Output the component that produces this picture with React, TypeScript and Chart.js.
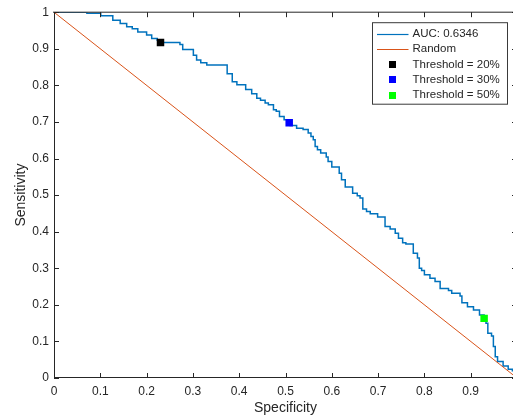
import { useEffect, useRef } from 'react';
import { Chart, registerables } from 'chart.js';

Chart.register(...registerables);

// ROC curve vertices (specificity, sensitivity), step-wise
const rocSpecificity = [
  0, 0.071, 0.101, 0.127, 0.143, 0.157, 0.169, 0.181, 0.200, 0.211, 0.223, 0.229,
  0.272, 0.278, 0.301, 0.308, 0.317, 0.330, 0.374, 0.385, 0.395, 0.414, 0.427, 0.438,
  0.446, 0.456, 0.463, 0.474, 0.480, 0.487, 0.497, 0.508, 0.510, 0.524, 0.538, 0.549,
  0.555, 0.560, 0.564, 0.569, 0.576, 0.588, 0.592, 0.600, 0.616, 0.621, 0.629, 0.645,
  0.655, 0.661, 0.667, 0.675, 0.683, 0.699, 0.715, 0.726, 0.737, 0.744, 0.753, 0.760,
  0.776, 0.785, 0.789, 0.794, 0.800, 0.812, 0.823, 0.834, 0.852, 0.859, 0.877, 0.881,
  0.893, 0.906, 0.919, 0.929, 0.933, 0.937, 0.945, 0.949, 0.953, 0.958, 0.970, 0.981,
  0.990, 1.0,
];
const rocSensitivity = [
  1.0, 0.997, 0.990, 0.978, 0.969, 0.960, 0.955, 0.946, 0.938, 0.928, 0.923, 0.917,
  0.912, 0.898, 0.882, 0.869, 0.862, 0.856, 0.832, 0.810, 0.802, 0.789, 0.777, 0.765,
  0.759, 0.752, 0.747, 0.733, 0.729, 0.715, 0.706, 0.698, 0.690, 0.683, 0.679, 0.670,
  0.660, 0.651, 0.633, 0.624, 0.615, 0.604, 0.592, 0.577, 0.560, 0.542, 0.522, 0.505,
  0.498, 0.492, 0.462, 0.455, 0.449, 0.440, 0.414, 0.407, 0.396, 0.382, 0.370, 0.366,
  0.341, 0.328, 0.300, 0.294, 0.282, 0.273, 0.264, 0.245, 0.239, 0.232, 0.224, 0.206,
  0.195, 0.186, 0.172, 0.163, 0.150, 0.122, 0.115, 0.086, 0.058, 0.045, 0.033, 0.024,
  0.020, 0.0,
];

const randomSpecificity = [0, 1];
const randomSensitivity = [1, 0];

const thresholdLabels = ['Threshold = 20%', 'Threshold = 30%', 'Threshold = 50%'];
const thresholdSpecificity = [0.230, 0.508, 0.929];
const thresholdSensitivity = [0.917, 0.698, 0.163];
const thresholdColors = ['#000000', '#0000ff', '#00ff00'];

const aucLabel = 'AUC: 0.6346';
const randomLabel = 'Random';
const xTitle = 'Specificity';
const yTitle = 'Sensitivity';
const axisTicks = [0, 0.1, 0.2, 0.3, 0.4, 0.5, 0.6, 0.7, 0.8, 0.9, 1];

const BLUE = '#0072BD';
const RED = '#D95319';
const AXIS = '#262626';
const FONT = "'Liberation Sans', Arial, Helvetica, sans-serif";

const fmt = (v: number) => String(Math.round(v * 10) / 10);

const boxPlugin = {
  id: 'matlabBox',
  afterDatasetsDraw(chart: any) {
    const { ctx, chartArea, scales } = chart;
    const { left, right, top, bottom } = chartArea;
    const xs = scales.x;
    const ys = scales.y;
    ctx.save();
    ctx.strokeStyle = AXIS;
    ctx.lineWidth = 1;
    ctx.beginPath();
    ctx.moveTo(left - 1, top);
    ctx.lineTo(right, top);
    ctx.moveTo(left + 0.5, top);
    ctx.lineTo(left + 0.5, bottom);
    ctx.moveTo(left, bottom - 0.5);
    ctx.lineTo(right, bottom - 0.5);
    ctx.moveTo(right - 0.5, top);
    ctx.lineTo(right - 0.5, bottom);
    ctx.stroke();
    ctx.beginPath();
    axisTicks.forEach((v) => {
      const px = Math.round(xs.getPixelForValue(v)) + 0.5;
      ctx.moveTo(px, bottom);
      ctx.lineTo(px, bottom - 5);
      ctx.moveTo(px, top);
      ctx.lineTo(px, top + 5);
      const py = Math.round(ys.getPixelForValue(v)) + 0.5;
      ctx.moveTo(left, py);
      ctx.lineTo(left + 5, py);
      ctx.moveTo(right, py);
      ctx.lineTo(right - 5, py);
    });
    ctx.stroke();
    ctx.restore();
  },
  afterDraw(chart: any) {
    const { ctx, chartArea } = chart;
    const bx = chartArea.right - 144.5;
    const by = chartArea.top + 10.5;
    const bw = 135;
    const bh = 81.5;
    ctx.save();
    ctx.fillStyle = '#ffffff';
    ctx.fillRect(bx, by, bw, bh);
    ctx.strokeStyle = '#3a3a3a';
    ctx.lineWidth = 1;
    ctx.strokeRect(bx, by, bw, bh);
    const rowY = (i: number) => by + 11 + i * 15.4;
    const lineX0 = bx + 4.5;
    const lineX1 = bx + 36;
    const textX = bx + 40;
    ctx.font = `11.5px ${FONT}`;
    ctx.textBaseline = 'middle';
    ctx.textAlign = 'left';
    const lines = [
      { label: aucLabel, color: BLUE },
      { label: randomLabel, color: RED },
    ];
    lines.forEach((l, i) => {
      ctx.strokeStyle = l.color;
      ctx.lineWidth = i === 0 ? 1.2 : 1;
      ctx.beginPath();
      ctx.moveTo(lineX0, Math.round(rowY(i)) + 0.5);
      ctx.lineTo(lineX1, Math.round(rowY(i)) + 0.5);
      ctx.stroke();
      ctx.fillStyle = AXIS;
      ctx.fillText(l.label, textX, rowY(i));
    });
    thresholdLabels.forEach((lab, j) => {
      const i = j + 2;
      const cx = (lineX0 + lineX1) / 2;
      ctx.fillStyle = thresholdColors[j];
      ctx.fillRect(Math.round(cx - 3.5), Math.round(rowY(i) - 3.5), 7, 7);
      ctx.fillStyle = AXIS;
      ctx.fillText(lab, textX, rowY(i));
    });
    ctx.restore();
  },
};

export default function App() {
  const canvasRef = useRef<HTMLCanvasElement | null>(null);

  useEffect(() => {
    if (!canvasRef.current) return;
    Chart.defaults.font.family = FONT;
    const markerSets = thresholdLabels.map((lab, i) => ({
      label: lab,
      data: [{ x: thresholdSpecificity[i], y: thresholdSensitivity[i] }],
      showLine: false,
      pointStyle: 'rect',
      pointRadius: 5.3,
      pointBorderWidth: 0,
      backgroundColor: thresholdColors[i],
      borderColor: thresholdColors[i],
    }));
    const chart = new Chart(canvasRef.current, {
      type: 'scatter',
      data: {
        datasets: [
          ...markerSets,
          {
            label: randomLabel,
            data: randomSpecificity.map((x, i) => ({ x, y: randomSensitivity[i] })),
            showLine: true,
            borderColor: RED,
            borderWidth: 1,
            pointRadius: 0,
          },
          {
            label: aucLabel,
            data: rocSpecificity.map((x, i) => ({ x, y: rocSensitivity[i] })),
            showLine: true,
            stepped: 'before',
            borderColor: BLUE,
            borderWidth: 1.5,
            pointRadius: 0,
          },
        ] as any,
      },
      options: {
        animation: false,
        responsive: true,
        maintainAspectRatio: false,
        layout: { padding: { left: 0, top: 12, right: 13, bottom: 0 } },
        plugins: {
          legend: { display: false },
          tooltip: { enabled: false },
        },
        scales: {
          x: {
            type: 'linear',
            min: 0,
            max: 1,
            border: { display: false },
            grid: { display: false, drawTicks: false },
            ticks: {
              stepSize: 0.1,
              color: AXIS,
              font: { size: 12 },
              padding: 6,
              maxRotation: 0,
              callback: (v: any) => (Number(v) > 0.95 ? '' : fmt(Number(v))),
            },
            title: {
              display: true,
              text: xTitle,
              color: AXIS,
              font: { size: 14 },
              padding: { top: 0, bottom: 0 },
            },
            afterFit: (s: any) => {
              s.height = 39;
            },
          },
          y: {
            type: 'linear',
            min: 0,
            max: 1,
            border: { display: false },
            grid: { display: false, drawTicks: false },
            ticks: {
              stepSize: 0.1,
              color: AXIS,
              font: { size: 12 },
              padding: 5,
              callback: (v: any) => fmt(Number(v)),
            },
            title: {
              display: true,
              text: yTitle,
              color: AXIS,
              font: { size: 14 },
              padding: { top: 12.5, bottom: 0 },
            },
            afterFit: (s: any) => {
              s.width = 54;
            },
          },
        },
      } as any,
      plugins: [boxPlugin],
    });
    return () => chart.destroy();
  }, []);

  return (
    <div
      style={{
        position: 'fixed',
        left: 0,
        top: 0,
        width: 513,
        height: 417,
        overflow: 'hidden',
        background: '#ffffff',
      }}
    >
      <div style={{ position: 'relative', width: 530, height: 417 }}>
        <canvas ref={canvasRef} />
      </div>
    </div>
  );
}
